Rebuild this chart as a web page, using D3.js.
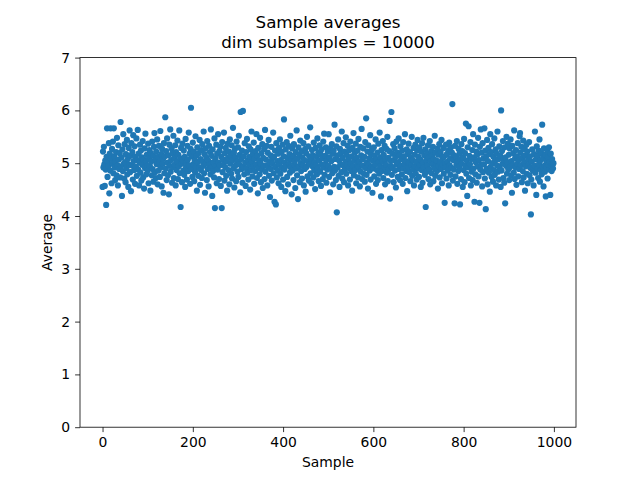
<!DOCTYPE html>
<html><head><meta charset="utf-8">
<script src="https://cdn.jsdelivr.net/npm/d3@7"></script>
<style>body{margin:0;background:#fff}svg{display:block}text{font-family:"DejaVu Sans",sans-serif}</style>
</head><body>
<svg id="c" width="640" height="480"></svg>
<script>
const titleLines = ["Sample averages", "dim subsamples = 10000"];
const xLabel = "Sample";
const yLabel = "Average";
const xTicks = [0, 200, 400, 600, 800, 1000];
const yTicks = [0, 1, 2, 3, 4, 5, 6, 7];
const averages = [
4.55,5.22,4.92,5.31,4.98,4.57,5.05,4.88,4.21,5.12,5.66,4.74,5.02,4.95,5.38,4.43,5.18,4.86,5.66,5.09,
4.62,5.27,4.99,5.41,4.81,5.66,5.13,4.92,4.68,5.03,5.21,4.77,5.48,4.96,4.58,5.34,5.07,4.89,5.19,4.73,
5.78,4.94,5.11,4.38,5.26,4.85,5.55,4.99,4.71,5.36,5.02,4.64,5.17,4.91,5.44,4.79,5.08,4.55,5.29,4.97,
5.62,4.83,5.14,4.47,5.38,4.96,5.21,4.69,5.53,5.04,4.87,5.32,4.61,5.12,4.93,5.47,4.76,5.06,5.63,4.88,
5.18,4.58,5.01,5.35,4.82,5.24,4.67,5.11,4.97,5.42,4.73,5.07,4.52,5.28,4.91,5.56,5.03,4.79,5.16,4.95,
4.86,5.37,4.62,5.09,5.25,4.94,4.48,5.19,5.03,4.77,5.41,4.89,5.14,4.65,5.31,5.57,4.83,5.06,4.72,5.22,
4.98,5.45,4.60,5.12,4.86,5.33,5.02,4.74,5.61,4.92,5.17,4.56,5.27,4.99,5.08,4.44,5.38,4.81,5.13,5.87,
4.90,5.23,4.68,5.47,5.01,4.77,5.15,4.41,5.35,4.95,5.64,4.84,5.06,5.28,4.63,5.19,4.93,5.52,4.72,5.10,
4.97,5.34,4.58,5.21,4.87,5.03,5.43,4.70,5.16,4.94,5.62,4.81,5.09,4.17,5.29,4.99,4.64,5.37,5.05,4.86,
5.24,4.78,5.12,4.55,5.46,4.92,5.01,4.69,5.33,5.07,4.85,5.58,4.96,5.18,4.61,5.27,6.05,4.89,5.13,4.74,
5.39,4.98,5.22,4.66,5.06,4.83,5.51,4.93,5.15,4.48,5.30,5.02,4.76,5.19,4.91,5.44,4.59,5.08,4.87,5.25,
4.72,5.36,5.03,4.95,5.60,4.81,5.17,4.44,5.28,4.99,5.11,4.68,5.42,4.89,5.05,4.56,5.33,4.97,5.21,4.79,
5.64,4.91,5.14,4.38,5.26,4.85,5.02,4.73,5.47,4.15,5.09,4.94,5.35,4.62,5.18,4.88,5.55,5.01,4.70,5.23,
4.96,5.31,4.57,5.12,4.15,5.40,4.83,5.07,4.97,5.58,4.67,5.19,4.92,5.29,4.76,5.04,4.48,5.37,5.10,4.87,
5.22,4.60,5.45,4.99,5.14,4.80,5.34,4.71,5.06,5.67,4.90,5.20,4.54,5.27,4.95,5.11,4.66,5.41,5.03,4.84,
5.30,4.74,5.52,4.98,5.16,4.45,5.97,5.08,4.89,5.24,4.63,5.99,4.93,5.13,4.79,5.38,5.01,4.57,5.21,4.90,
5.46,4.82,5.06,4.69,5.32,4.97,5.12,4.50,5.26,4.87,5.60,5.03,4.75,5.17,4.94,5.39,4.61,5.09,4.85,5.23,
4.98,5.55,4.72,5.14,4.43,5.29,4.91,5.05,4.79,5.48,5.00,4.64,5.19,4.88,5.36,4.53,5.10,4.95,5.27,4.70,
5.63,4.84,5.07,4.96,5.33,4.58,5.20,4.92,5.44,4.76,5.02,4.36,5.15,4.89,5.31,4.67,5.09,4.99,5.58,4.81,
5.12,4.27,5.24,4.93,4.22,5.38,4.73,5.04,4.86,5.18,4.62,5.29,4.97,5.45,4.80,5.06,4.55,5.22,4.91,5.35,
4.69,5.13,5.83,4.88,5.01,4.47,5.26,4.95,5.40,4.74,5.10,4.60,5.33,4.99,5.17,4.82,5.52,4.92,5.07,4.41,
5.28,4.86,5.14,4.68,5.36,4.97,5.04,4.53,5.21,4.90,5.62,4.77,5.09,4.32,5.30,4.94,5.16,4.64,5.43,5.00,
4.85,5.23,4.71,5.11,4.96,5.38,4.58,5.06,4.89,5.27,4.46,5.19,4.93,5.50,4.75,5.03,5.32,4.67,5.13,4.98,
5.68,4.81,5.08,4.62,5.25,4.94,5.15,4.73,5.39,4.87,5.02,4.51,5.29,4.96,5.12,4.79,5.47,4.90,5.20,4.66,
5.05,5.34,4.84,5.17,4.57,5.26,4.97,5.09,4.70,5.41,4.92,5.56,4.78,5.14,4.99,5.30,4.63,5.07,4.88,5.22,
4.95,5.55,4.74,5.11,4.45,5.28,4.90,5.04,5.36,4.81,5.18,4.60,5.24,4.93,5.73,4.86,5.08,4.68,5.32,4.07,
5.15,4.92,5.45,4.76,5.05,4.55,5.27,4.98,5.19,4.83,5.60,4.71,5.10,4.96,5.38,4.64,5.22,4.89,5.02,5.49,
4.80,5.16,4.97,5.33,4.58,5.08,4.91,5.25,4.69,5.41,5.00,4.85,5.13,4.48,5.29,4.94,5.57,4.77,5.06,5.20,
4.87,5.37,4.62,5.10,4.99,5.24,4.73,5.46,4.93,5.03,4.56,5.31,4.84,5.15,5.65,4.70,5.07,4.95,5.28,4.80,
5.12,4.65,5.40,4.91,5.85,4.78,5.01,5.22,4.52,5.34,4.97,5.09,4.86,5.53,4.69,5.17,4.93,5.26,4.44,5.05,
4.90,5.30,4.75,5.14,4.98,5.45,4.61,5.08,4.87,5.20,4.68,5.37,5.02,4.80,5.58,4.94,5.11,4.37,5.25,4.85,
5.03,5.42,4.72,5.16,4.92,5.33,4.60,5.07,4.97,5.27,4.82,5.50,4.66,5.10,4.88,5.23,5.80,4.33,5.05,4.95,
5.97,4.78,5.18,4.91,5.36,4.64,5.06,5.28,4.86,5.12,4.54,5.41,4.98,5.20,4.74,5.02,5.47,4.89,5.15,4.68,
5.32,4.95,5.08,4.79,5.24,4.61,5.40,4.90,5.13,4.99,5.55,4.72,5.04,4.85,5.26,4.47,5.17,4.93,5.37,5.01,
4.83,5.21,4.66,5.10,4.96,5.50,4.76,5.06,4.88,5.29,4.58,5.16,4.94,5.35,4.80,5.03,4.69,5.24,5.44,4.90,
5.12,4.74,5.30,4.97,5.07,4.55,5.22,4.87,5.38,4.63,5.01,5.48,4.92,5.15,4.78,5.26,4.17,5.05,4.84,5.18,
4.95,5.34,4.70,5.11,4.88,5.42,4.60,5.04,5.23,4.81,5.14,4.98,5.31,4.66,5.08,4.91,5.52,4.76,5.20,4.99,
5.05,4.85,5.27,4.52,5.16,4.94,5.36,4.73,5.02,5.21,4.89,5.44,4.62,5.10,4.97,5.29,4.80,5.13,4.25,5.00,
4.92,5.35,4.71,5.17,5.03,4.86,5.24,4.58,5.39,4.96,5.09,4.78,5.30,4.91,5.20,6.12,4.67,5.06,4.88,5.15,
4.24,5.33,4.75,5.12,4.97,5.42,4.61,5.04,4.85,5.27,4.93,5.18,4.22,5.08,4.70,5.36,4.99,5.23,4.55,5.10,
4.87,5.46,4.64,5.19,4.95,5.75,4.80,5.05,4.38,5.30,4.92,5.70,4.72,5.14,4.98,5.40,4.58,5.08,4.84,5.25,
4.68,5.55,4.90,5.11,4.27,5.35,4.79,5.02,5.22,4.63,5.16,4.94,5.48,4.75,5.06,4.25,5.31,4.88,5.64,4.97,
5.20,4.56,5.38,4.83,5.09,4.98,5.66,4.71,5.24,4.13,5.13,4.90,5.44,4.60,5.04,5.29,4.82,5.17,4.46,5.55,
4.93,5.21,4.74,5.36,5.00,4.65,5.12,4.87,5.47,4.78,5.05,5.26,4.58,5.18,4.96,5.60,4.84,5.08,4.69,5.32,
4.91,5.14,4.55,6.00,4.86,5.23,4.99,5.42,4.72,5.07,4.63,5.30,4.24,5.11,4.95,5.50,4.80,5.02,5.37,4.88,
5.16,4.68,5.28,4.93,5.45,4.77,5.04,4.44,5.33,4.97,5.19,4.82,5.62,4.70,5.09,4.92,5.25,4.59,5.13,4.99,
5.38,4.75,5.06,4.89,5.51,5.57,5.20,4.96,5.31,4.64,5.10,4.85,5.43,4.73,5.02,5.27,4.48,5.15,4.94,5.35,
4.80,5.22,4.62,5.08,4.97,5.40,4.77,5.13,4.91,4.03,4.69,5.03,5.26,4.86,4.92,4.58,5.17,4.95,5.60,4.82,
5.07,4.40,5.32,4.90,5.14,4.72,5.24,4.98,5.45,4.65,5.05,4.87,5.19,4.79,5.73,4.93,5.10,4.56,5.28,4.95,
4.84,5.16,4.37,5.04,4.92,5.25,4.71,5.11,4.98,5.30,4.88,5.02,4.40,5.18,4.95,4.85,5.08,4.97,4.90,5.00
];
const samples = averages.map((d, i) => i);

const svg = d3.select("#c");
const L = 80, R = 576, T = 57.6, B = 427.2;
const xMin = d3.min(samples), xMax = d3.max(samples), pad = (xMax - xMin) * 0.05;
const x = d3.scaleLinear().domain([xMin - pad, xMax + pad]).range([L, R]);
const y = d3.scaleLinear().domain([0, 7]).range([B, T]);

svg.append("g").selectAll("circle").data(averages).join("circle")
  .attr("cx", (d, i) => x(samples[i])).attr("cy", d => y(d))
  .attr("r", 3.1).attr("fill", "#1f77b4");

const fs = "13.9px";
const xa = svg.append("g").attr("transform", `translate(0,${B})`)
  .call(d3.axisBottom(x).tickValues(xTicks).tickSize(4.9).tickPadding(4.9).tickFormat(d3.format("d")));
const ya = svg.append("g").attr("transform", `translate(${L},0)`)
  .call(d3.axisLeft(y).tickValues(yTicks).tickSize(4.9).tickPadding(4.9).tickFormat(d3.format("d")));
[xa, ya].forEach(a => {
  a.select(".domain").remove();
  a.selectAll("line").attr("stroke", "#000").attr("stroke-width", 0.8);
  a.selectAll("text").attr("font-size", fs).attr("fill", "#000").attr("font-family", "DejaVu Sans");
});
svg.append("rect").attr("x", L).attr("y", T).attr("width", R - L).attr("height", B - T)
  .attr("fill", "none").attr("stroke", "#000").attr("stroke-width", 0.8);

svg.append("text").attr("x", (L + R) / 2).attr("y", 467).attr("text-anchor", "middle")
  .attr("font-size", fs).text(xLabel);
svg.append("text").attr("transform", `translate(52,${(T + B) / 2}) rotate(-90)`).attr("text-anchor", "middle")
  .attr("font-size", fs).text(yLabel);
titleLines.forEach((t, i) => {
  svg.append("text").attr("x", (L + R) / 2).attr("y", 28 + i * 20).attr("text-anchor", "middle")
    .attr("font-size", "16.7px").text(t);
});
</script>
</body></html>
